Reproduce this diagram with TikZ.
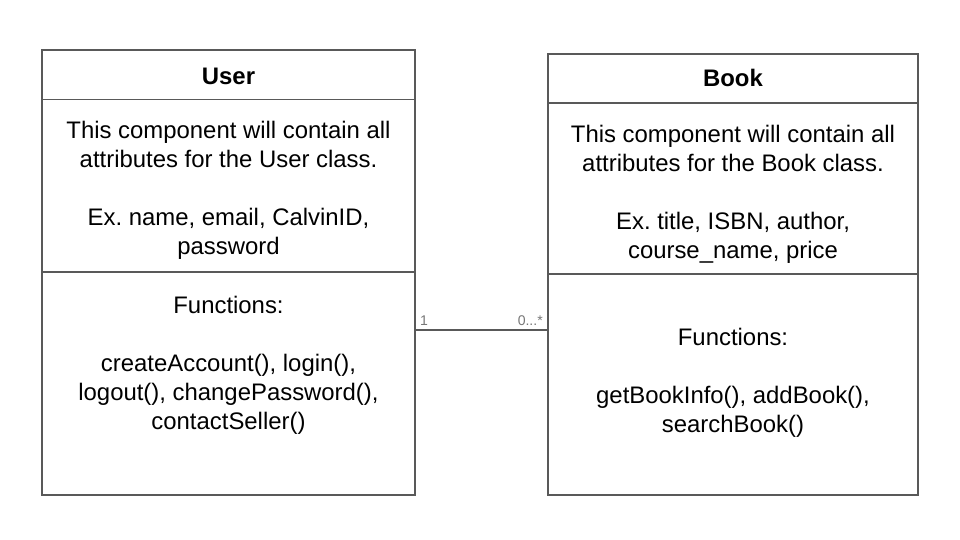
\documentclass[tikz,border=0pt]{standalone}
\usepackage{fontspec}
\setmainfont{Liberation Sans}
\usetikzlibrary{positioning}
\frenchspacing
\definecolor{umlline}{HTML}{595959}
\definecolor{multgray}{HTML}{777777}
\tikzstyle{umlbox}=[rectangle,draw=umlline,line width=0.9pt,inner sep=0pt]
\tikzstyle{txt}=[align=center,inner sep=0pt,font=\fontsize{20.4}{24.7}\selectfont]
\tikzstyle{head}=[inner sep=0pt,font=\fontsize{20.4}{24}\selectfont\bfseries]
\tikzstyle{mult}=[inner sep=0pt,text=multgray,font=\fontsize{12}{14}\selectfont]

\begin{document}
\begin{tikzpicture}[x=0.03cm,y=-0.03cm]
\useasboundingbox (0,0) rectangle (960,540);
% class boxes
\node[umlbox,minimum width=11.19cm,minimum height=13.35cm] (user) at (228.5,272.5) {};
\node[umlbox,minimum width=11.1cm,minimum height=13.23cm] (book) at (733,274.5) {};
% compartments
\draw[umlline,line width=0.9pt] (user.west |- 0,99.5) -- (user.east |- 0,99.5);
\draw[umlline,line width=0.9pt] (user.west |- 0,272) -- (user.east |- 0,272);
\draw[umlline,line width=0.9pt] (book.west |- 0,103) -- (book.east |- 0,103);
\draw[umlline,line width=0.9pt] (book.west |- 0,274) -- (book.east |- 0,274);
% User
\node[head] (usertitle) at (user.center |- 0,76) {User};
\node[txt] (userattr) at (user.center |- 0,190.5) {This component will contain all\\attributes for the User class.\\[24.7pt]Ex. name, email, CalvinID,\\password};
\node[txt] (userfunc) at (user.center |- 0,365.5) {Functions:\\[24.7pt]createAccount(), login(),\\logout(), changePassword(),\\contactSeller()};
% Book
\node[head] (booktitle) at (book.center |- 0,78) {Book};
\node[txt] (bookattr) at (book.center |- 0,194) {This component will contain all\\attributes for the Book class.\\[24.7pt]Ex. title, ISBN, author,\\course\_name, price};
\node[txt] (bookfunc) at (book.center |- 0,382.5) {Functions:\\[24.7pt]getBookInfo(), addBook(),\\searchBook()};
% association
\draw[umlline,line width=0.9pt] (user.east |- 0,330) -- (book.west |- 0,330);
\node[mult,anchor=west] (multuser) at (420,320.5) {1};
\node[mult,anchor=east] (multbook) at (543,320.5) {0...*};
\end{tikzpicture}
\end{document}
